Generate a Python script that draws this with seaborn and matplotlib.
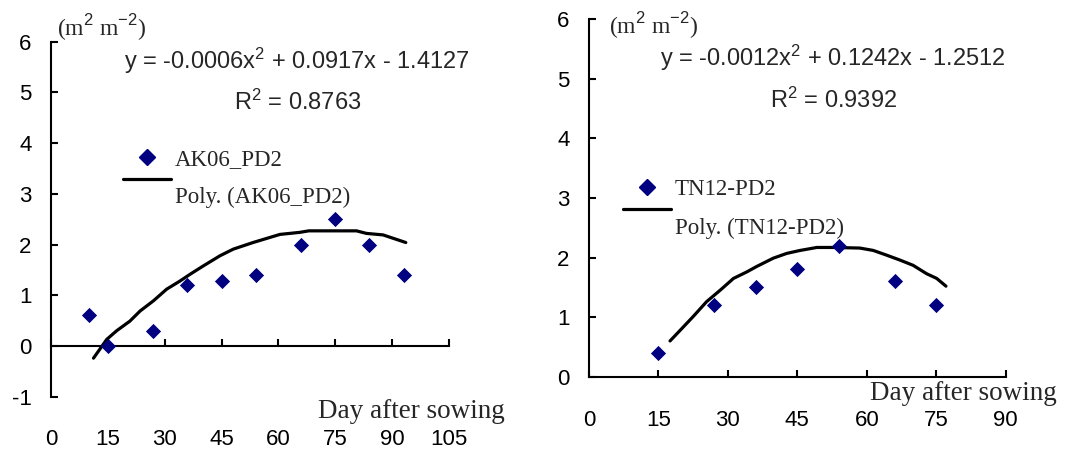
import matplotlib
matplotlib.use('Agg')
import numpy as np
import matplotlib.pyplot as plt
import seaborn as sns
from matplotlib.lines import Line2D
from matplotlib.legend_handler import HandlerLine2D

# AK06_PD2 : leaf area index vs day after sowing
ak_day = [10, 15, 27, 36, 45, 54, 66, 75, 84, 93]
ak_lai = [0.62, 0.0, 0.3, 1.2, 1.28, 1.4, 2.0, 2.5, 2.0, 1.4]
# polynomial trendline as drawn in the chart
ak_fit_day = [11.2, 14.7, 17.3, 20.8, 23.5, 27.0, 30.5, 34.0, 36.6, 40.2,
              44.6, 48.1, 53.3, 60.4, 65.6, 68.0, 74.4, 80.6, 83.2, 87.6, 93.6]
ak_fit_lai = [-0.24, 0.13, 0.30, 0.49, 0.69, 0.89, 1.12, 1.28, 1.41, 1.58,
              1.78, 1.91, 2.04, 2.20, 2.24, 2.27, 2.27, 2.27, 2.22, 2.19, 2.04]
ak_name = 'AK06_PD2'
ak_eq = 'y = -0.0006x$\\mathregular{^2}$ + 0.0917x - 1.4127'
ak_r2 = 'R$\\mathregular{^2}$ = 0.8763'

# TN12-PD2
tn_day = [15, 27, 36, 45, 54, 66, 75]
tn_lai = [0.4, 1.2, 1.5, 1.8, 2.2, 1.6, 1.2]
tn_fit_day = [17.5, 19.7, 22.5, 25.4, 28.3, 31.2, 34.1, 36.2, 39.8, 42.7,
              45.6, 49.2, 52.8, 58.5, 61.4, 64.3, 67.1, 70.0, 72.9, 75.1, 77.1]
tn_fit_lai = [0.60, 0.78, 1.01, 1.26, 1.45, 1.65, 1.76, 1.85, 1.99, 2.07,
              2.12, 2.17, 2.17, 2.16, 2.12, 2.04, 1.96, 1.87, 1.73, 1.65, 1.52]
tn_name = 'TN12-PD2'
tn_eq = 'y = -0.0012x$\\mathregular{^2}$ + 0.1242x - 1.2512'
tn_r2 = 'R$\\mathregular{^2}$ = 0.9392'

ak_xticks = [0, 15, 30, 45, 60, 75, 90, 105]
ak_yticks = [-1, 0, 1, 2, 3, 4, 5, 6]
tn_xticks = [0, 15, 30, 45, 60, 75, 90]
tn_yticks = [0, 1, 2, 3, 4, 5, 6]

sns.set_style('white')
plt.rcParams['font.family'] = ['Liberation Sans', 'DejaVu Sans']
plt.rcParams['mathtext.fontset'] = 'custom'
plt.rcParams['mathtext.rm'] = 'Liberation Sans'
plt.rcParams['axes.unicode_minus'] = False

navy = '#000080'
serif = 'Liberation Serif'


class RaisedLine(HandlerLine2D):
    # excel draws the trendline key a bit above its label
    def create_artists(self, legend, orig_handle, xdescent, ydescent,
                       width, height, fontsize, trans):
        arts = super().create_artists(legend, orig_handle, xdescent, ydescent,
                                      width, height, fontsize, trans)
        for a in arts:
            a.set_ydata(np.asarray(a.get_ydata()) + 12)
        return arts


fig = plt.figure(figsize=(10.77, 4.54), dpi=100)
ax1 = fig.add_axes([0.0474, 0.1262, 0.3695, 0.782])
ax2 = fig.add_axes([0.5469, 0.1703, 0.3869, 0.787])


def panel(ax, day, lai, fit_day, fit_lai, name, eq, r2, xticks, yticks, xpad,
          eq_pos, r2_pos, unit_pos, leg_pos, lab_pos):
    sns.lineplot(x=fit_day, y=fit_lai, ax=ax, color='black', lw=2.3,
                 sort=False, estimator=None)
    sns.scatterplot(x=day, y=lai, ax=ax, marker='D', s=60, color=navy,
                    edgecolor=navy, linewidth=0, zorder=3)
    ax.set_xlim(xticks[0], xticks[-1])
    ax.set_ylim(yticks[0], yticks[-1])
    ax.set_xticks(xticks)
    ax.set_yticks(yticks)
    for s in ['top', 'right']:
        ax.spines[s].set_visible(False)
    for s in ['left', 'bottom']:
        ax.spines[s].set_linewidth(1.5)
        ax.spines[s].set_color('black')
    ax.spines['bottom'].set_position(('data', 0))
    ax.tick_params(axis='both', direction='in', length=5, width=1.5,
                   color='black', labelsize=16, labelcolor='black',
                   bottom=True, left=True)
    ax.tick_params(axis='y', pad=14)
    ax.tick_params(axis='x', pad=xpad)
    ax.set_xlabel('')
    ax.set_ylabel('')
    ax.text(*eq_pos, eq, transform=ax.transAxes, ha='center', va='center',
            fontsize=17)
    ax.text(*r2_pos, r2, transform=ax.transAxes, ha='center', va='center',
            fontsize=17)
    ax.text(*unit_pos, '(m$^{2}$ m$^{-2}$)', transform=ax.transAxes,
            ha='left', va='center', fontsize=17, family=serif)
    ax.text(*lab_pos, 'Day after sowing', transform=ax.transAxes,
            ha='right', va='center', fontsize=19.5, family=serif)
    mk = Line2D([], [], marker='D', ls='none', color=navy, ms=8)
    ln = Line2D([], [], color='black', lw=2.3)
    ax.legend([mk, ln], [name, 'Poly. (%s)' % name], loc='upper left',
              bbox_to_anchor=leg_pos, frameon=False, borderpad=0,
              borderaxespad=0, handlelength=2.1, handletextpad=0.15,
              labelspacing=0.75, prop=dict(family=serif, size=16.5),
              handler_map={ln: RaisedLine()})


panel(ax1, ak_day, ak_lai, ak_fit_day, ak_fit_lai, ak_name, ak_eq, ak_r2,
      ak_xticks, ak_yticks, 60,
      (0.618, 0.946), (0.62, 0.83), (0.015, 1.041), (0.181, 0.698),
      (1.14, -0.043))
panel(ax2, tn_day, tn_lai, tn_fit_day, tn_fit_lai, tn_name, tn_eq, tn_r2,
      tn_xticks, tn_yticks, 24,
      (0.586, 0.892), (0.588, 0.774), (0.048, 0.984), (0.082, 0.553),
      (1.123, -0.046))

fig.savefig('out.png', dpi=100)
